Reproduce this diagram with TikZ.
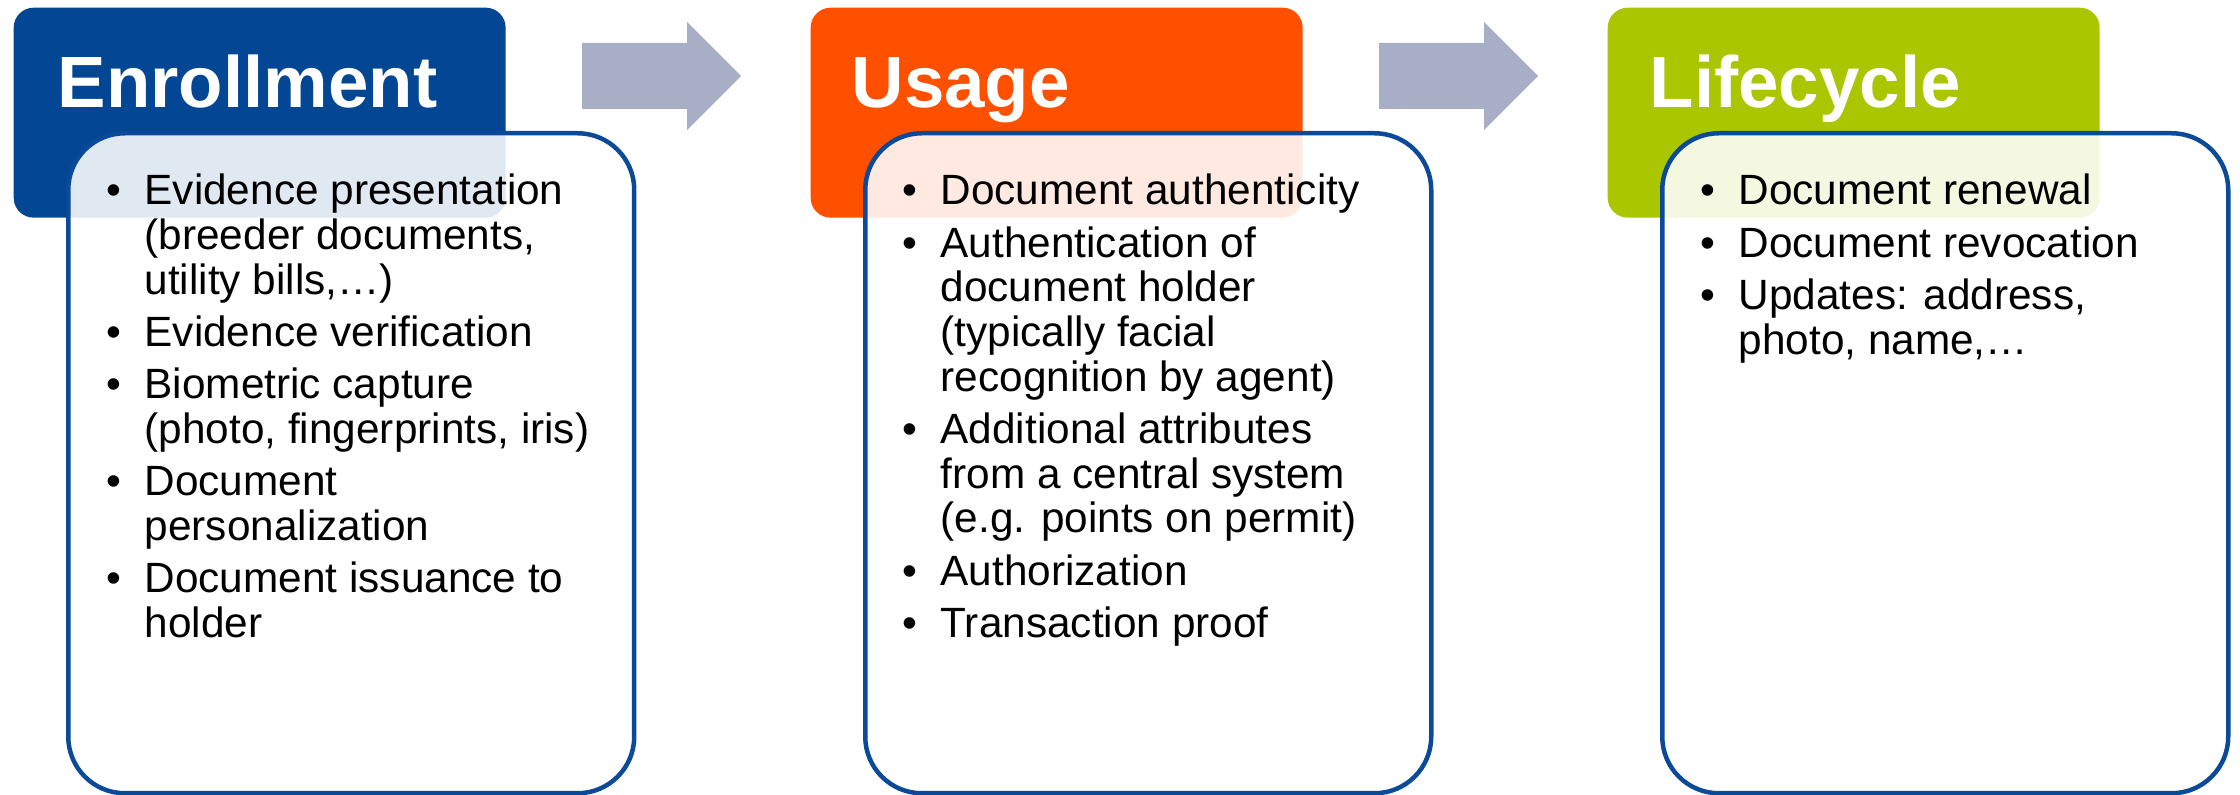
\documentclass[tikz,border=0pt]{standalone}
\usepackage{fontspec}
\setmainfont{Liberation Sans}
\usetikzlibrary{calc}

\definecolor{enrblue}{HTML}{034694}
\definecolor{useorange}{HTML}{FF5000}
\definecolor{lifegreen}{HTML}{A9C600}
\definecolor{cardline}{HTML}{0B4A99}
\definecolor{arrowgrey}{HTML}{A9AEC7}

% one text line, a bullet hung to its left, and the extra space between items
\newcommand\tline[1]{\hbox{#1}}
\newcommand\itm{\llap{•\hskip6.9pt}}
\newcommand\itemgap{\vskip2.3pt}

\tikzset{
  hdr/.style={rectangle, rounded corners=6pt, minimum width=147.6pt,
    minimum height=63pt, inner sep=0pt, anchor=north west},
  hdrtext/.style={text=white, inner sep=0pt, anchor=base west,
    font=\fontsize{21.8pt}{24pt}\selectfont\bfseries},
  card/.style={rectangle, rounded corners=17pt, draw=cardline,
    line width=1.35pt, fill=white, fill opacity=0.88,
    minimum width=169.8pt, minimum height=198pt, inner sep=0pt,
    anchor=north west},
  items/.style={inner sep=0pt, anchor=base west,
    font=\fontsize{12.7pt}{13.4pt}\selectfont},
  flow/.style={fill=arrowgrey, draw=none}
}

\begin{document}
\begin{tikzpicture}[x=0.3pt, y=-0.3pt]
\useasboundingbox (0,0) rectangle (2240,795);

% stage headers
\node[hdr, fill=enrblue]   (h1) at (13,7)   {};
\node[hdr, fill=useorange] (h2) at (810,7)  {};
\node[hdr, fill=lifegreen] (h3) at (1607,7) {};

\node[hdrtext] (t1) at ($(h1.north west)+(44,101)$) {Enrollment};
\node[hdrtext] (t2) at ($(h2.north west)+(41,101)$) {Usage};
\node[hdrtext] (t3) at ($(h3.north west)+(42,101)$) {Lifecycle};

% cards laid over the headers
\node[card] (c1) at (66,131)   {};
\node[card] (c2) at (863,131)  {};
\node[card] (c3) at (1660,131) {};

% card contents
\node[items] (l1) at ($(c1.north west)+(78,74)$) {\vtop{%
  \tline{\itm Evidence presentation}
  \tline{(breeder documents,}
  \tline{utility bills,…)}\itemgap
  \tline{\itm Evidence verification}\itemgap
  \tline{\itm Biometric capture}
  \tline{(photo, fingerprints, iris)}\itemgap
  \tline{\itm Document}
  \tline{personalization}\itemgap
  \tline{\itm Document issuance to}
  \tline{holder}}};

\node[items] (l2) at ($(c2.north west)+(77,74)$) {\vtop{%
  \tline{\itm Document authenticity}\itemgap
  \tline{\itm Authentication of}
  \tline{document holder}
  \tline{(typically facial}
  \tline{recognition by agent)}\itemgap
  \tline{\itm Additional attributes}
  \tline{from a central system}
  \tline{(e.g. points on permit)}\itemgap
  \tline{\itm Authorization}\itemgap
  \tline{\itm Transaction proof}}};

\node[items] (l3) at ($(c3.north west)+(78,74)$) {\vtop{%
  \tline{\itm Document renewal}\itemgap
  \tline{\itm Document revocation}\itemgap
  \tline{\itm Updates: address,}
  \tline{photo, name,…}}};

% block arrows between the stages
\coordinate (a1) at (582,43);
\coordinate (a2) at (1379,43);
\foreach \a in {a1,a2} {
  \fill[flow] (\a) -- ++(105,0) -- ++(0,-21) -- ++(54,54) -- ++(-54,54)
    -- ++(0,-21) -- ++(-105,0) -- cycle;
}
\end{tikzpicture}
\end{document}
